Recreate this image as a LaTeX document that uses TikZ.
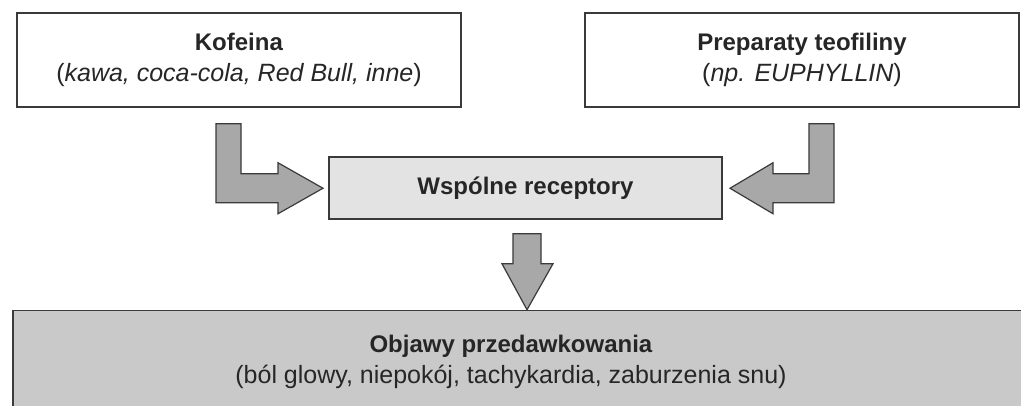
\documentclass[tikz,border=0pt]{standalone}
\usepackage{fontspec}
\setmainfont{Liberation Sans}
\definecolor{boxline}{HTML}{3A3A3A}
\definecolor{inktext}{HTML}{262626}
\definecolor{midfill}{HTML}{E3E3E3}
\definecolor{lowfill}{HTML}{C9C9C9}
\definecolor{arrowfill}{HTML}{A8A8A8}
\newcommand{\subline}[1]{{\fontsize{25}{31}\selectfont #1}}
\begin{document}
\begin{tikzpicture}[x=1pt,y=-1pt,
    panel/.style={draw=boxline,line width=1.5pt,inner sep=0pt,align=center,
      text=inktext,font=\fontsize{24}{31}\selectfont},
    fatarrow/.style={draw=boxline,line width=1.2pt,fill=arrowfill,line join=miter}]
    % Frame
    \useasboundingbox (0,0) rectangle (1021,406);
    \fill[white] (0,0) rectangle (1021,406);

    % Boxes
    \node[panel,fill=white,minimum width=444pt,minimum height=94pt] (kofeina) at (239,60)
      {\textbf{Kofeina}\\\subline{(\textit{kawa, coca-cola, Red Bull, inne})}};
    \node[panel,fill=white,minimum width=434pt,minimum height=94pt] (teofilina) at (802,60)
      {\textbf{Preparaty teofiliny}\\\subline{(\textit{np. EUPHYLLIN})}};
    \node[panel,fill=midfill,minimum width=393pt,minimum height=62pt] (receptory) at (525.5,188)
      {\textbf{Wspólne receptory}};
    \node[panel,fill=lowfill,minimum width=1030pt,minimum height=130pt,anchor=north west] (objawy) at (12,310) {};
    \node[panel,draw=none] (objawytekst) at (511,362)
      {\textbf{Objawy przedawkowania}\\\subline{(ból glowy, niepokój, tachykardia, zaburzenia snu)}};

    % Arrows
    \draw[fatarrow] ([xshift=-23pt,yshift=-16pt]kofeina.south) -- ++(25,0) -- ++(0,50) -- ++(37,0)
      -- ++(0,-11) -- ++(45,25.5) -- ++(-45,25.5) -- ++(0,-11) -- ++(-62,0) -- cycle;
    \draw[fatarrow] ([xshift=32pt,yshift=-16pt]teofilina.south) -- ++(-25,0) -- ++(0,50) -- ++(-36,0)
      -- ++(0,-11) -- ++(-43,25.5) -- ++(43,25.5) -- ++(0,-11) -- ++(61,0) -- cycle;
    \draw[fatarrow] ([xshift=-12.5pt,yshift=-14pt]receptory.south) -- ++(28,0) -- ++(0,30) -- ++(12,0)
      -- ++(-26,46) -- ++(-25,-46) -- ++(11,0) -- cycle;

\end{tikzpicture}
\end{document}
